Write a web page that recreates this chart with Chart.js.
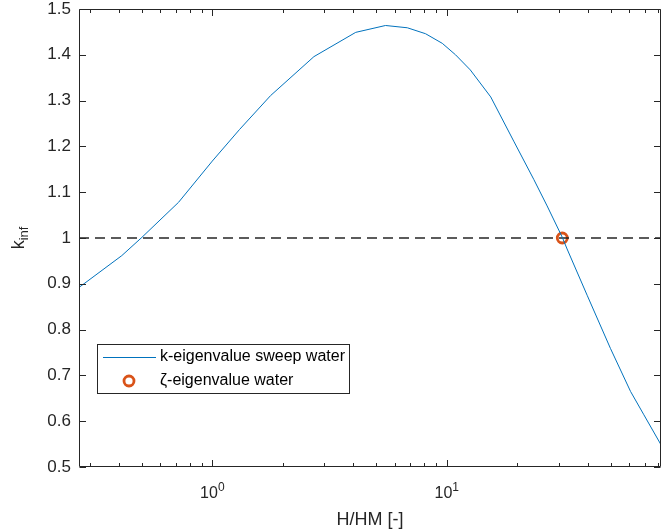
<!DOCTYPE html>
<html>
<head>
<meta charset="utf-8">
<script src="https://cdn.jsdelivr.net/npm/chart.js@4"></script>
<style>
html, body { margin: 0; padding: 0; background: #fff; }
#wrap { width: 662px; height: 531px; }
</style>
</head>
<body>
<div id="wrap"><canvas id="myChart"></canvas></div>
<script>
// k-eigenvalue sweep
const sweepX = [0.27, 0.411, 0.501, 0.718, 1.0, 1.307, 1.773, 2.713, 4.09, 5.48, 6.79, 8.12, 9.57, 10.9, 12.6, 15.4, 19.3, 23.5, 26.8, 31.1, 32.6, 39.7, 49.9, 60.8, 69.3, 82]
const sweepY = [0.892, 0.9615, 1.0015, 1.078, 1.168, 1.237, 1.311, 1.396, 1.449, 1.464, 1.459, 1.446, 1.425, 1.400, 1.367, 1.308, 1.2115, 1.128, 1.070, 1.0015, 0.976, 0.875, 0.759, 0.665, 0.614, 0.5485]

// zeta-eigenvalue point
const zetaX = [31.1]
const zetaY = [1.0]

// dashed reference line k = 1
const refX = [0.27, 82]
const refY = [1, 1]

const xMin = 0.27
const xMax = 82
const yTicks = [0.5, 0.6, 0.7, 0.8, 0.9, 1, 1.1, 1.2, 1.3, 1.4, 1.5]
const yTickLabels = ["0.5", "0.6", "0.7", "0.8", "0.9", "1", "1.1", "1.2", "1.3", "1.4", "1.5"]
const xDecades = [1, 10]
const xDecadeExp = ["0", "1"]
const xMinor = [0.3, 0.4, 0.5, 0.6, 0.7, 0.8, 0.9, 2, 3, 4, 5, 6, 7, 8, 9, 20, 30, 40, 50, 60, 70, 80]

const BLUE = "#0072BD"
const ORANGE = "#D95319"
const AXIS = "#262626"
const FONT = "'Liberation Sans', Arial, Helvetica, sans-serif"

function pts(xs, ys) {
	return xs.map((x, i) => ({ x: x, y: ys[i] }))
}

// box, ticks, exponent labels, titles and legend (MATLAB look)
const matlabFrame = {
	id: "matlabFrame",
	afterDraw(chart) {
		const ctx = chart.ctx
		const a = chart.chartArea
		const x = chart.scales.x
		const y = chart.scales.y
		const L = Math.round(a.left) + 0.5
		const R = Math.round(a.right) - 0.5
		const T = Math.round(a.top) + 0.5
		const B = Math.round(a.bottom) - 0.5

		ctx.save()
		ctx.strokeStyle = AXIS
		ctx.lineWidth = 1
		ctx.beginPath()
		ctx.rect(L, T, R - L, B - T)

		yTicks.forEach(v => {
			const py = Math.round(y.getPixelForValue(v)) + 0.5
			ctx.moveTo(L, py); ctx.lineTo(L + 6.5, py)
			ctx.moveTo(R, py); ctx.lineTo(R - 6.5, py)
		})
		xDecades.forEach(v => {
			const px = Math.round(x.getPixelForValue(v)) + 0.5
			ctx.moveTo(px, B); ctx.lineTo(px, B - 6.5)
			ctx.moveTo(px, T); ctx.lineTo(px, T + 6.5)
		})
		xMinor.forEach(v => {
			const px = Math.round(x.getPixelForValue(v)) + 0.5
			ctx.moveTo(px, B); ctx.lineTo(px, B - 3.5)
			ctx.moveTo(px, T); ctx.lineTo(px, T + 3.5)
		})
		ctx.stroke()

		// x tick labels 10^n
		ctx.fillStyle = AXIS
		ctx.textBaseline = "alphabetic"
		ctx.textAlign = "left"
		xDecades.forEach((v, i) => {
			const px = x.getPixelForValue(v)
			ctx.font = "16px " + FONT
			const wb = ctx.measureText("10").width
			ctx.font = "12px " + FONT
			const we = ctx.measureText(xDecadeExp[i]).width
			const x0 = px - (wb + we) / 2
			ctx.font = "16px " + FONT
			ctx.fillText("10", x0, 498)
			ctx.font = "12px " + FONT
			ctx.fillText(xDecadeExp[i], x0 + wb, 491)
		})

		// x axis title
		ctx.font = "18px " + FONT
		ctx.textAlign = "center"
		ctx.fillText("H/HM [-]", (a.left + a.right) / 2, 525)

		// y axis title k_inf
		ctx.save()
		ctx.translate(24, (a.top + a.bottom) / 2)
		ctx.rotate(-Math.PI / 2)
		ctx.textAlign = "left"
		ctx.font = "18px " + FONT
		const wk = ctx.measureText("k").width
		ctx.font = "13px " + FONT
		const wi = ctx.measureText("inf").width
		const s = -(wk + wi) / 2
		ctx.font = "18px " + FONT
		ctx.fillText("k", s, 0)
		ctx.font = "13px " + FONT
		ctx.fillText("inf", s + wk, 4)
		ctx.restore()

		// legend
		const lx = 97.5, ly = 344.5, lw = 252, lh = 49
		ctx.fillStyle = "#fff"
		ctx.fillRect(lx, ly, lw, lh)
		ctx.strokeStyle = AXIS
		ctx.lineWidth = 1
		ctx.strokeRect(lx, ly, lw, lh)

		ctx.strokeStyle = BLUE
		ctx.beginPath()
		ctx.moveTo(103, 357.5); ctx.lineTo(156, 357.5)
		ctx.stroke()

		ctx.strokeStyle = ORANGE
		ctx.lineWidth = 2.8
		ctx.beginPath()
		ctx.arc(129, 381, 5, 0, Math.PI * 2)
		ctx.stroke()

		ctx.fillStyle = "#000"
		ctx.font = "16px " + FONT
		ctx.textAlign = "left"
		ctx.textBaseline = "middle"
		ctx.fillText("k-eigenvalue sweep water", 160, 357)
		ctx.fillText("\u03B6-eigenvalue water", 160, 381)
		ctx.restore()
	}
}

new Chart("myChart", {
	type: "line",
	data: {
		datasets: [
			{
				label: "k-eigenvalue sweep water",
				data: pts(sweepX, sweepY),
				borderColor: BLUE,
				borderWidth: 1,
				pointRadius: 0,
				fill: false,
				tension: 0
			},
			{
				label: "k = 1",
				data: pts(refX, refY),
				borderColor: "#262626",
				borderWidth: 1.4,
				borderDash: [10, 6],
				pointRadius: 0,
				fill: false
			},
			{
				label: "\u03B6-eigenvalue water",
				data: pts(zetaX, zetaY),
				showLine: false,
				pointRadius: 5,
				pointBorderWidth: 2.8,
				pointBorderColor: ORANGE,
				pointBackgroundColor: "rgba(0,0,0,0)"
			}
		]
	},
	options: {
		responsive: true,
		maintainAspectRatio: false,
		animation: false,
		layout: { autoPadding: false, padding: { top: 9, right: 1, left: 0, bottom: 0 } },
		plugins: {
			legend: { display: false },
			tooltip: { enabled: false }
		},
		scales: {
			x: {
				type: "logarithmic",
				min: xMin,
				max: xMax,
				grid: { display: false, drawTicks: false },
				border: { display: false },
				ticks: { display: false },
				afterFit: (scale) => {
					scale.height = 64
					scale.paddingLeft = 0
					scale.paddingRight = 0
				}
			},
			y: {
				type: "linear",
				min: 0.5,
				max: 1.5,
				grid: { display: false, drawTicks: false },
				border: { display: false },
				afterBuildTicks: (scale) => { scale.ticks = yTicks.map(v => ({ value: v })) },
				afterFit: (scale) => {
					scale.width = 79
					scale.paddingTop = 0
					scale.paddingBottom = 0
				},
				ticks: {
					padding: 8,
					color: AXIS,
					font: { family: FONT, size: 17 },
					callback: (v, i) => yTickLabels[i]
				}
			}
		}
	},
	plugins: [matlabFrame]
})
</script>
</body>
</html>
